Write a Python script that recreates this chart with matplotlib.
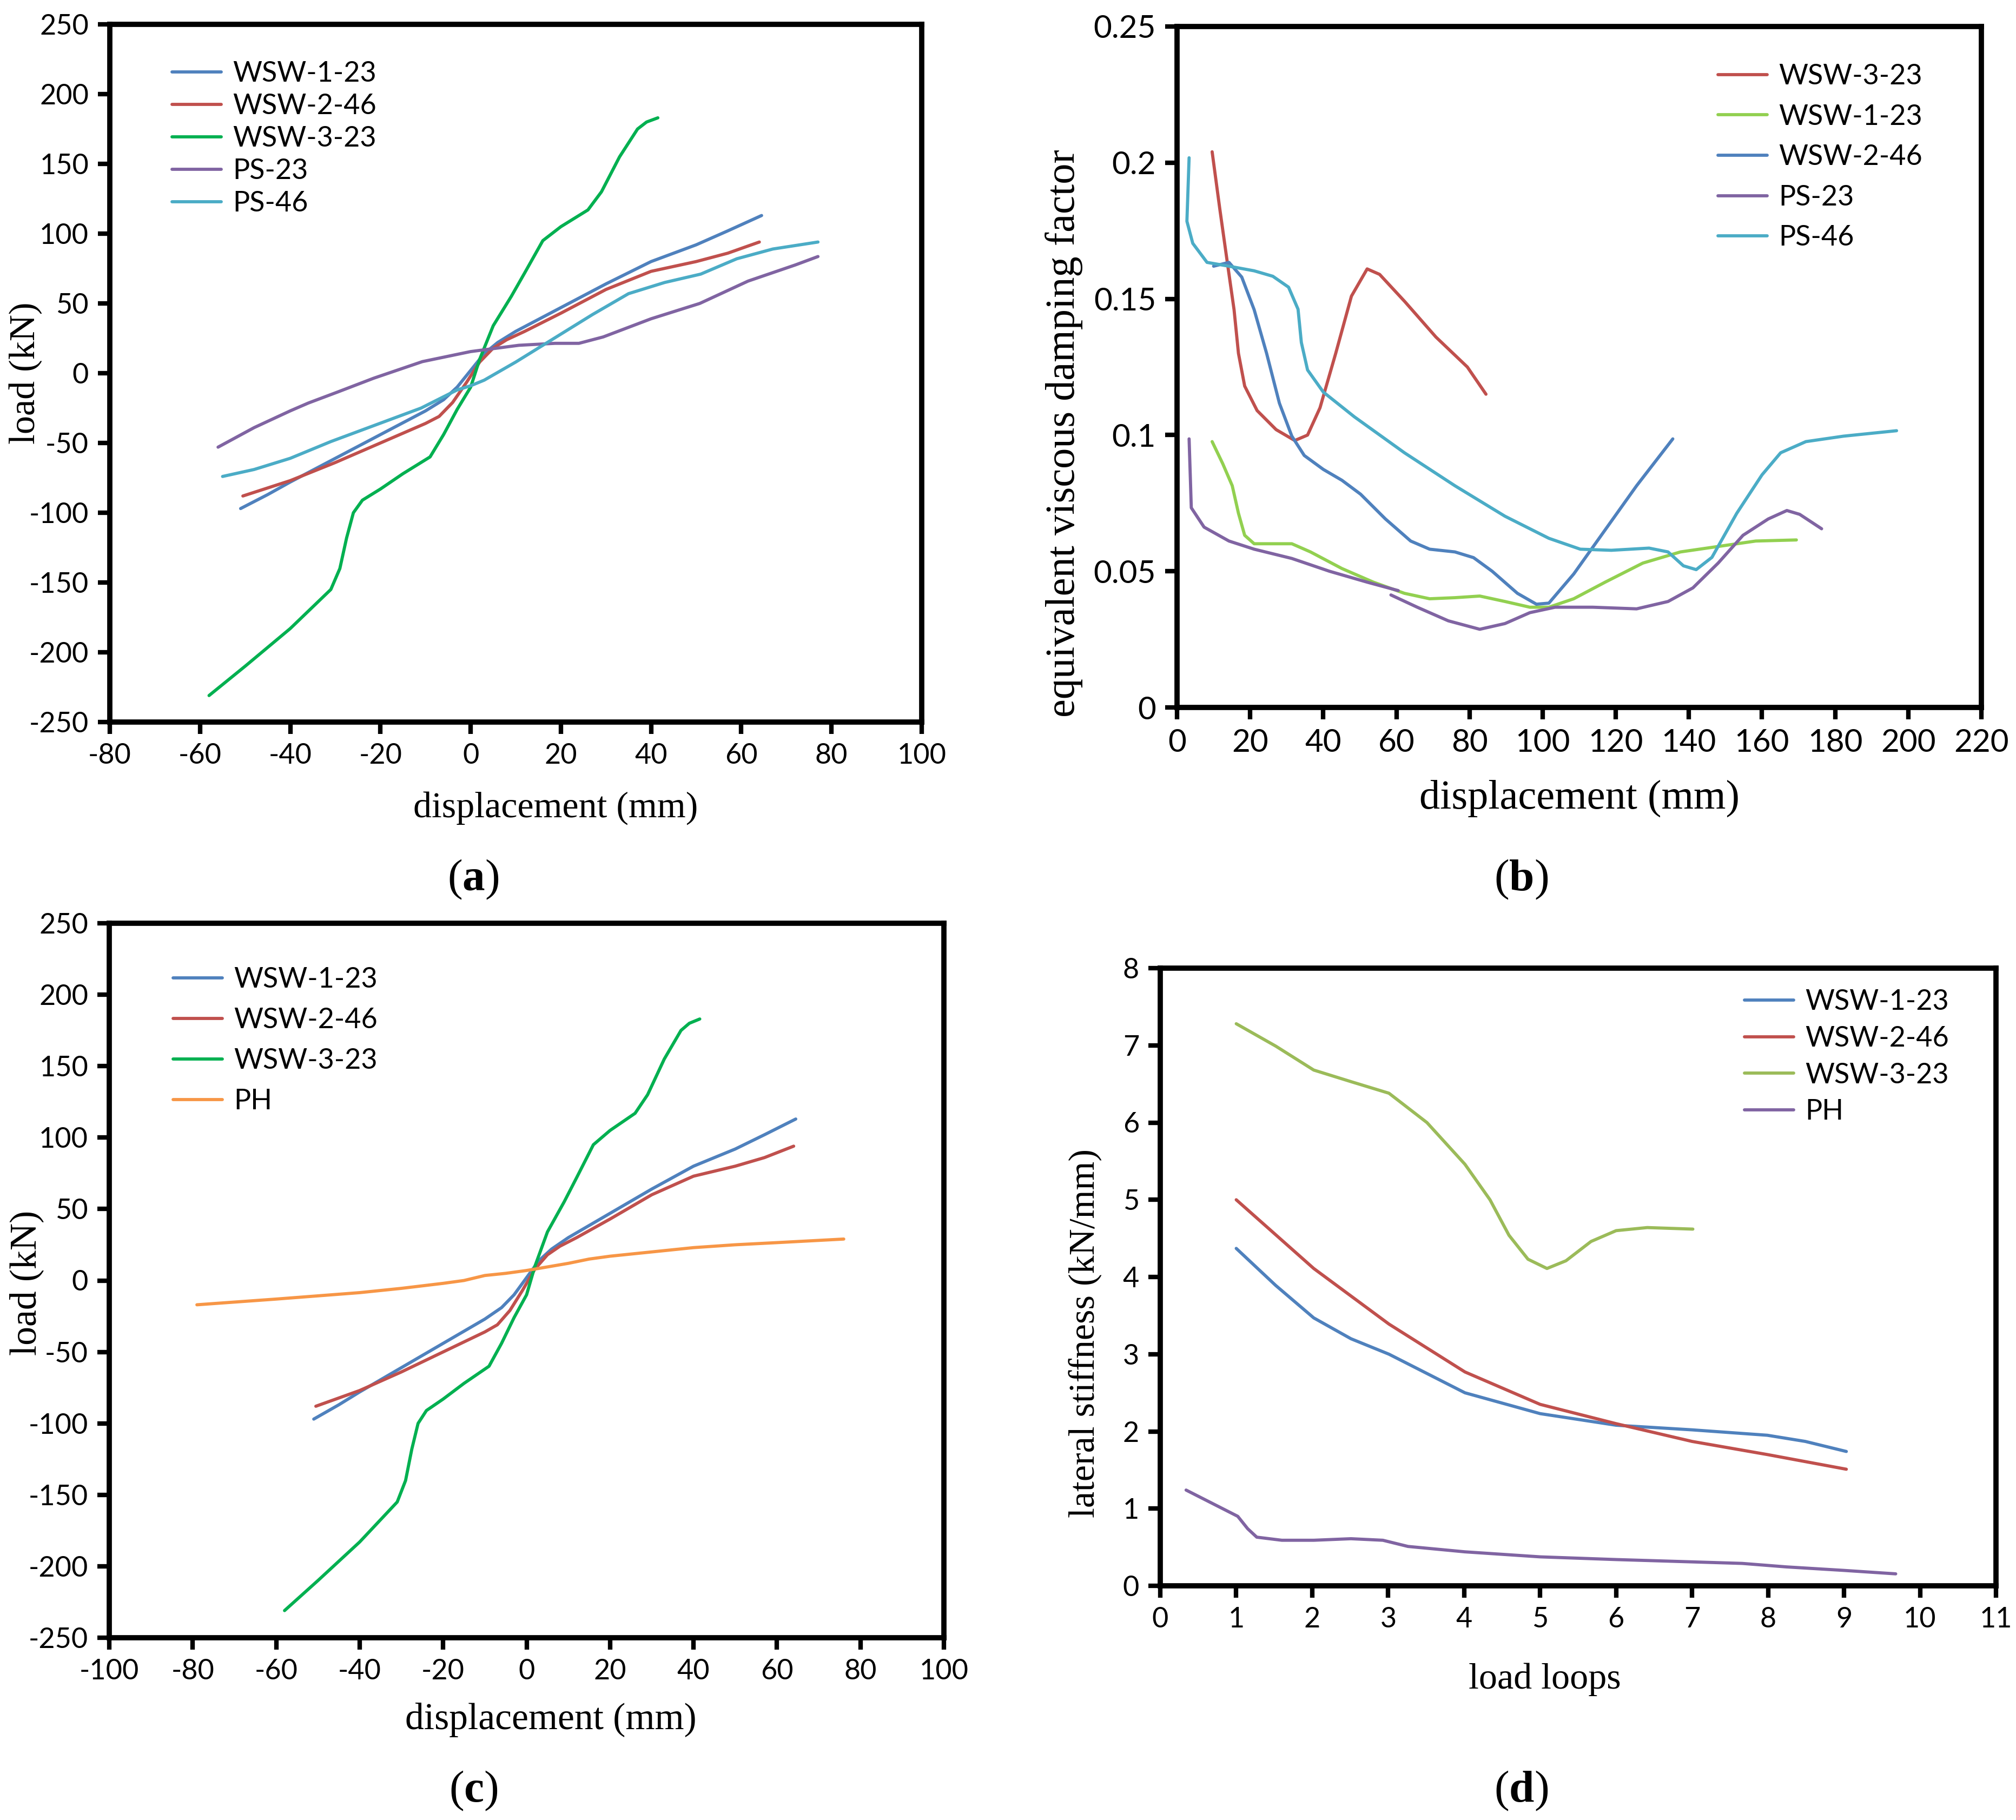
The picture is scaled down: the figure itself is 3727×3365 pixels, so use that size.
import numpy as np
import matplotlib
matplotlib.use('Agg')
import matplotlib.pyplot as plt
from matplotlib.ticker import MultipleLocator, FormatStrFormatter

plt.rcParams['font.family'] = ['Lato', 'DejaVu Sans']
plt.rcParams['axes.unicode_minus'] = False
plt.rcParams['mathtext.fontset'] = 'custom'
plt.rcParams['mathtext.rm'] = 'Liberation Serif'
plt.rcParams['mathtext.bf'] = 'Liberation Serif:bold'
plt.rcParams['lines.solid_joinstyle'] = 'round'
plt.rcParams['lines.solid_capstyle'] = 'round'

# colours (Excel palette)
c_blue = '#4F81BD'
c_red = '#C0504D'
c_green = '#00B050'
c_purple = '#8064A2'
c_cyan = '#4BACC6'
c_orange = '#F79646'
c_lgreen = '#92D050'
c_olive = '#9BBB59'

# ---- load-displacement skeleton curves, panels (a) and (c)
wsw1_x = [-51, -45, -40, -30, -20, -10, -6, -3, 0, 3, 6, 10, 20, 30, 40, 50, 57, 64.5]
wsw1_y = [-97, -87, -78, -61, -44, -27, -19, -10, 2, 14, 22, 30, 47, 64, 80, 92, 102, 113]

wsw2_x = [-50.5, -40, -30, -20, -10, -7, -4, -1, 2, 5, 8, 12, 20, 30, 40, 50, 57, 64]
wsw2_y = [-88, -77, -64, -50, -36, -31, -21, -7, 8, 18, 24, 30, 43, 60, 73, 80, 86, 94]

wsw3_x = [-58, -50, -40, -31, -29, -27.5, -26, -24, -20, -15, -9, -6, -3, 0, 2, 5, 9, 12,
          16, 20, 26, 29, 33, 37, 39, 41.5]
wsw3_y = [-231, -210, -183, -155, -140, -118, -100, -91, -83, -72, -60, -44, -26, -10, 10, 34,
          55, 72, 95, 105, 117, 130, 155, 175, 180, 183]

ps23_x = [-56, -48, -40, -36, -29.5, -21.5, -10.7, 0, 10.7, 18.7, 24, 29.4, 40, 50.8, 61.5, 72, 77]
ps23_y = [-53, -39, -27, -21.4, -13.5, -3.6, 8.3, 15.5, 20, 21.4, 21.4, 26, 39, 50, 66, 77.6, 83.6]

ps46_x = [-55, -48, -40, -31, -21, -11, -3, 0, 3, 10, 19, 27, 35, 43, 51, 59, 67, 77]
ps46_y = [-74, -69, -61, -49, -37, -25, -12, -9, -5, 8, 26, 42, 57, 65, 71, 82, 89, 94]

ph_x = [-79, -60, -40, -30, -20, -15, -10, -5, 0, 5, 10, 15, 20, 30, 40, 50, 60, 76]
ph_y = [-17, -13, -8.5, -5.5, -2, 0, 3.5, 5, 7, 9.5, 12, 15, 17, 20, 23, 25, 26.5, 29]

# ---- equivalent viscous damping, panel (b)
b_wsw3_x = [9.6, 11.7, 13.9, 15.6, 16.8, 18.5, 21.9, 27.1, 32.2, 35.7, 39.1, 43.4, 47.7, 52,
            55.4, 62.3, 70.8, 79.4, 84.5]
b_wsw3_y = [0.204, 0.183, 0.162, 0.146, 0.130, 0.118, 0.109, 0.102, 0.098, 0.100, 0.110, 0.130,
            0.151, 0.161, 0.159, 0.149, 0.136, 0.125, 0.115]

b_wsw1_x = [9.6, 12.5, 15.1, 16.8, 18.5, 21.1, 26.2, 31.4, 36.5, 45.1, 53.7, 62.2, 69.1, 76,
            82.8, 89.7, 96.5, 101.7, 108.5, 117.1, 127.4, 137.7, 148, 158.3, 169.4]
b_wsw1_y = [0.0976, 0.0895, 0.0814, 0.0713, 0.0632, 0.0601, 0.0601, 0.0601, 0.0571, 0.051,
            0.046, 0.0419, 0.0399, 0.0403, 0.0409, 0.0389, 0.0368, 0.0368, 0.0399, 0.046,
            0.053, 0.0571, 0.0591, 0.0611, 0.0615]

b_wsw2_x = [10, 14.2, 17.7, 21.1, 24.5, 28, 31.4, 34.8, 40, 45.1, 50.2, 57, 63.9, 69.1, 76,
            81.1, 86.2, 93.1, 98.3, 101.7, 108.5, 117.1, 125.7, 135.6]
b_wsw2_y = [0.162, 0.1634, 0.158, 0.146, 0.130, 0.1117, 0.0996, 0.0925, 0.0874, 0.0834,
            0.0783, 0.0692, 0.0611, 0.0581, 0.0571, 0.055, 0.05, 0.0419, 0.0379, 0.0383,
            0.049, 0.0652, 0.0814, 0.0986]

b_ps23a_x = [3.3, 3.9, 7.4, 14.2, 21.1, 31.4, 41.7, 52, 60.5]
b_ps23a_y = [0.0986, 0.0733, 0.0662, 0.0611, 0.0581, 0.0547, 0.05, 0.046, 0.0429]
b_ps23b_x = [58.5, 65.7, 74.2, 82.8, 89.7, 96.5, 103.4, 113.7, 125.7, 134.3, 141.1, 148,
             154.8, 161.7, 166.8, 170.3, 176.3]
b_ps23b_y = [0.0413, 0.0368, 0.0318, 0.0287, 0.0308, 0.0348, 0.0368, 0.0368, 0.0362, 0.0389,
             0.0439, 0.053, 0.0632, 0.0692, 0.0723, 0.0709, 0.0656]

b_ps46_x = [3.3, 2.7, 4.3, 8.2, 14.2, 21.1, 26.2, 30.5, 33.1, 34, 35.7, 40, 48.5, 62.2, 76,
            89.7, 101.7, 110.3, 118.8, 129.1, 134.3, 138.5, 142, 146.3, 153.1, 160, 165.1,
            172, 182.3, 196.8]
b_ps46_y = [0.2018, 0.1785, 0.1704, 0.1634, 0.162, 0.1603, 0.1583, 0.1543, 0.1462, 0.134,
            0.1239, 0.1158, 0.1067, 0.0935, 0.0814, 0.0702, 0.0621, 0.0581, 0.0577, 0.0585,
            0.0571, 0.052, 0.0506, 0.0551, 0.0713, 0.0854, 0.0935, 0.0976, 0.0996, 0.1016]

# ---- lateral stiffness, panel (d)
d_wsw1_x = [1.0, 1.52, 2.02, 2.51, 3.01, 4.01, 5.0, 6.0, 7.0, 7.99, 8.49, 9.03]
d_wsw1_y = [4.37, 3.89, 3.47, 3.2, 3.0, 2.5, 2.23, 2.08, 2.02, 1.95, 1.87, 1.74]

d_wsw2_x = [1.0, 2.02, 3.01, 4.01, 5.0, 6.0, 7.0, 7.99, 9.03]
d_wsw2_y = [5.0, 4.11, 3.39, 2.77, 2.35, 2.1, 1.87, 1.70, 1.51]

d_wsw3_x = [1.0, 1.52, 2.02, 2.51, 3.01, 3.51, 4.01, 4.34, 4.59, 4.84, 5.09, 5.34, 5.67,
            6.0, 6.41, 7.01]
d_wsw3_y = [7.28, 6.99, 6.68, 6.53, 6.38, 6.0, 5.46, 5.0, 4.54, 4.23, 4.11, 4.21, 4.46,
            4.6, 4.64, 4.62]

d_ph_x = [0.34, 1.02, 1.15, 1.27, 1.6, 2.02, 2.51, 2.93, 3.26, 4.01, 5.0, 6.0, 7.0, 7.66,
          8.24, 8.99, 9.68]
d_ph_y = [1.24, 0.9, 0.74, 0.63, 0.59, 0.59, 0.61, 0.59, 0.51, 0.44, 0.375, 0.34, 0.31,
          0.29, 0.245, 0.2, 0.155]

W, H = 3727, 3365
fig = plt.figure(figsize=(W / 100, H / 100), dpi=100)


def px_axes(l, t, r, b):
    return fig.add_axes([l / W, 1 - b / H, (r - l) / W, (b - t) / H])


def style(ax, tick_fs):
    for s in ax.spines.values():
        s.set_linewidth(7)
    ax.tick_params(direction='out', length=16, width=6, labelsize=tick_fs, pad=12,
                   top=False, right=False)


def put_legend(ax, x, y, spacing):
    ax.legend(loc='upper left', bbox_to_anchor=(x / W, 1 - y / H), bbox_transform=fig.transFigure,
              frameon=False, borderpad=0, borderaxespad=0, handlelength=1.75,
              handletextpad=0.4, labelspacing=spacing, fontsize=37.5)


def serif_text(x, y, s, fs, rot=0):
    fig.text(x / W, 1 - y / H, s, fontfamily='Liberation Serif', fontsize=fs,
             ha='center', va='center', rotation=rot)


lw = 4.2

# (a)
ax = px_axes(203, 45, 1704, 1335)
ax.plot(wsw1_x, wsw1_y, color=c_blue, lw=lw, label='WSW-1-23')
ax.plot(wsw2_x, wsw2_y, color=c_red, lw=lw, label='WSW-2-46')
ax.plot(wsw3_x, wsw3_y, color=c_green, lw=lw, label='WSW-3-23')
ax.plot(ps23_x, ps23_y, color=c_purple, lw=lw, label='PS-23')
ax.plot(ps46_x, ps46_y, color=c_cyan, lw=lw, label='PS-46')
ax.set_xlim(-80, 100)
ax.set_ylim(-250, 250)
ax.xaxis.set_major_locator(MultipleLocator(20))
ax.yaxis.set_major_locator(MultipleLocator(50))
style(ax, 37.5)
put_legend(ax, 318, 113, 0.25)
serif_text(1027, 1494, 'displacement (mm)', 49)
serif_text(47, 690, 'load (kN)', 49, 90)
serif_text(875, 1626, r'($\mathbf{a}$)', 60)

# (b)
ax = px_axes(2176, 49, 3663, 1308)
ax.plot(b_wsw3_x, b_wsw3_y, color=c_red, lw=lw, label='WSW-3-23')
ax.plot(b_wsw1_x, b_wsw1_y, color=c_lgreen, lw=lw, label='WSW-1-23')
ax.plot(b_wsw2_x, b_wsw2_y, color=c_blue, lw=lw, label='WSW-2-46')
ax.plot(b_ps23a_x, b_ps23a_y, color=c_purple, lw=lw, label='PS-23')
ax.plot(b_ps23b_x, b_ps23b_y, color=c_purple, lw=lw)
ax.plot(b_ps46_x, b_ps46_y, color=c_cyan, lw=lw, label='PS-46')
ax.set_xlim(0, 220)
ax.set_ylim(0, 0.25)
ax.xaxis.set_major_locator(MultipleLocator(20))
ax.yaxis.set_major_locator(MultipleLocator(0.05))
ax.yaxis.set_major_formatter(FormatStrFormatter('%g'))
style(ax, 42)
put_legend(ax, 3176, 118, 0.53)
serif_text(2920, 1476, 'displacement (mm)', 55)
serif_text(1967, 801, 'equivalent viscous damping factor', 55, 90)
serif_text(2812, 1626, r'($\mathbf{b}$)', 60)

# (c)
ax = px_axes(202, 1707, 1745, 3028)
ax.plot(wsw1_x, wsw1_y, color=c_blue, lw=lw, label='WSW-1-23')
ax.plot(wsw2_x, wsw2_y, color=c_red, lw=lw, label='WSW-2-46')
ax.plot(wsw3_x, wsw3_y, color=c_green, lw=lw, label='WSW-3-23')
ax.plot(ph_x, ph_y, color=c_orange, lw=lw, label='PH')
ax.set_xlim(-100, 100)
ax.set_ylim(-250, 250)
ax.xaxis.set_major_locator(MultipleLocator(20))
ax.yaxis.set_major_locator(MultipleLocator(50))
style(ax, 37.5)
put_legend(ax, 320, 1788, 0.54)
serif_text(1018, 3180, 'displacement (mm)', 50)
serif_text(49, 2372, 'load (kN)', 50, 90)
serif_text(875, 3311, r'($\mathbf{c}$)', 60)

# (d)
ax = px_axes(2145, 1790, 3690, 2932)
ax.plot(d_wsw1_x, d_wsw1_y, color=c_blue, lw=lw, label='WSW-1-23')
ax.plot(d_wsw2_x, d_wsw2_y, color=c_red, lw=lw, label='WSW-2-46')
ax.plot(d_wsw3_x, d_wsw3_y, color=c_olive, lw=lw, label='WSW-3-23')
ax.plot(d_ph_x, d_ph_y, color=c_purple, lw=lw, label='PH')
ax.set_xlim(0, 11)
ax.set_ylim(0, 8)
ax.xaxis.set_major_locator(MultipleLocator(1))
ax.yaxis.set_major_locator(MultipleLocator(1))
style(ax, 37.5)
put_legend(ax, 3225, 1829, 0.40)
serif_text(2856, 3105, 'load loops', 49)
serif_text(2007, 2465, 'lateral stiffness (kN/mm)', 49, 90)
serif_text(2812, 3311, r'($\mathbf{d}$)', 60)

fig.savefig('out.png', dpi=100, facecolor='white')
